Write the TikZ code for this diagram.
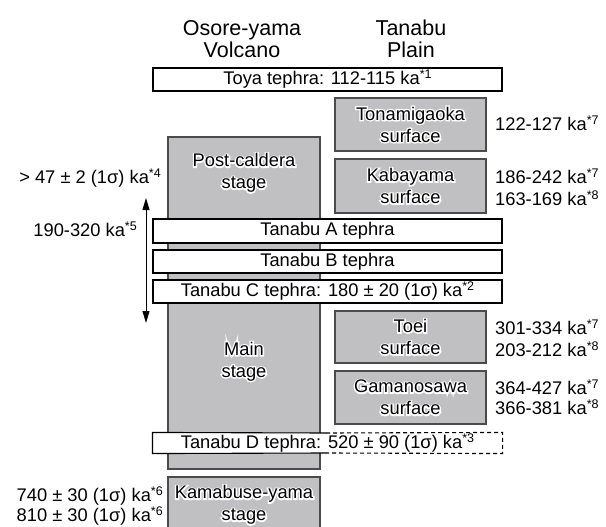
\documentclass[tikz,border=0pt]{standalone}
\usepackage{fontspec}
\setmainfont{Liberation Sans}
\newfontfamily\halofont[FakeBold=15]{Liberation Sans}
\usetikzlibrary{arrows.meta}
\definecolor{boxgray}{RGB}{192,192,194}
\definecolor{edgegray}{RGB}{75,75,75}
\newcommand\sups[1]{\raisebox{6pt}{\fontsize{12.5}{12.5}\selectfont *#1}}
\newcommand\halo[1]{\leavevmode\rlap{\color{white}\halofont #1}#1}
\begin{document}
\begin{tikzpicture}[x=1pt,y=-1pt, font=\fontsize{18.3}{22}\selectfont,
  graybox/.style={draw=edgegray, fill=boxgray, line width=1.3pt, inner sep=0pt, align=center},
  tephra/.style={draw=black, fill=white, line width=1.1pt, inner sep=0pt, minimum width=349pt},
  lbl/.style={inner sep=0pt, anchor=base west},
  lblr/.style={inner sep=0pt, anchor=base east},
  txt/.style={align=center, inner sep=0pt},
  head/.style={align=center, inner sep=0pt, font=\fontsize{21.5}{22}\selectfont}]
\useasboundingbox (0,0) rectangle (606,527);

% headers
\node[head] (h1) at (242,39) {Osore-yama\\Volcano};
\node[head] (h2) at (411,39) {Tanabu\\Plain};

% volcano column
\node[graybox, minimum width=152pt, minimum height=332pt] (col) at (244,303) {};
\node[txt] (post) at (244,173) {\halo{Post-caldera}\\\halo{stage}};
\node[txt] (main) at (244,361.5) {\halo{Main}\\\halo{stage}};

% Kamabuse-yama (runs off the bottom)
\fill[boxgray] (168,477) rectangle (320,527);
\draw[edgegray, line width=1.3pt] (168,527) -- (168,477) -- (320,477) -- (320,527);
\node[txt] (kama) at (244,505) {\halo{Kamabuse-yama}\\\halo{stage}};

% plain surfaces
\node[graybox, minimum width=151pt, minimum height=53pt] (tona) at (410.5,124.5) {\halo{Tonamigaoka}\\\halo{surface}};
\node[graybox, minimum width=151pt, minimum height=54pt] (kaba) at (410.5,186) {\halo{Kabayama}\\\halo{surface}};
\node[graybox, minimum width=151pt, minimum height=52pt] (toei) at (410.5,337) {\halo{Toei}\\\halo{surface}};
\node[graybox, minimum width=151pt, minimum height=53pt] (gama) at (410.5,397.5) {\halo{Gamanosawa}\\\halo{surface}};

% tephras
\node[tephra, minimum height=23pt] (toya) at (327.5,79.5) {Toya tephra: 112-115 ka\sups{1}};
\node[tephra, minimum height=24pt] (ta) at (327.5,231) {Tanabu A tephra};
\node[tephra, minimum height=23pt] (tb) at (327.5,261.5) {Tanabu B tephra};
\node[tephra, minimum height=23pt] (tc) at (327.5,291.5) {Tanabu C tephra: 180 ± 20 (1σ) ka\sups{2}};
\node[tephra, draw=none, minimum height=20pt] (td) at (327.5,443) {Tanabu D tephra: 520 ± 90 (1σ) ka\sups{3}};
\draw[line width=1.1pt] (326,433) -- (td.north west) -- (td.south west) -- (326,453);
\draw[line width=1.1pt, dash pattern=on 4pt off 3pt] (326,433) -- (td.north east) -- (td.south east) -- (326,453);

% arrow
\coordinate (atop) at (146,198);
\coordinate (abot) at (146,323);
\draw[line width=1pt, {Triangle[length=12pt,width=7pt]}-{Triangle[length=12pt,width=7pt]}] (atop) -- (abot);

% left labels
\node[lblr] (l47) at (161,183.5) {> 47 ± 2 (1σ) ka\sups{4}};
\node[lblr] (l190) at (137,236.5) {190-320 ka\sups{5}};
\node[lblr] (l740) at (163,501.5) {740 ± 30 (1σ) ka\sups{6}};
\node[lblr] (l810) at (163,521.5) {810 ± 30 (1σ) ka\sups{6}};

% right labels
\node[lbl] (r1) at (495,130.5) {122-127 ka\sups{7}};
\node[lbl] (r2) at (495,183) {186-242 ka\sups{7}};
\node[lbl] (r3) at (495,205) {163-169 ka\sups{8}};
\node[lbl] (r4) at (495,334) {301-334 ka\sups{7}};
\node[lbl] (r5) at (495,356) {203-212 ka\sups{8}};
\node[lbl] (r6) at (495,394.5) {364-427 ka\sups{7}};
\node[lbl] (r7) at (495,414.5) {366-381 ka\sups{8}};
\end{tikzpicture}
\end{document}
